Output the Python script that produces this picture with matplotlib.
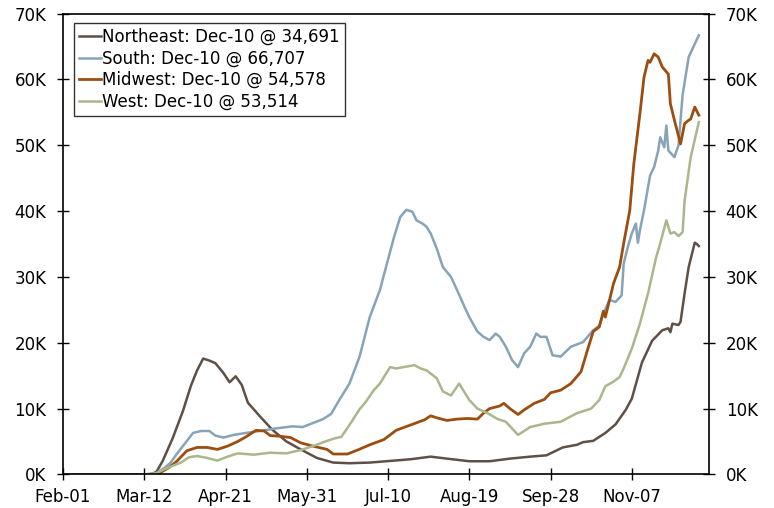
import pandas as pd
import matplotlib
matplotlib.use("Agg")
import matplotlib.pyplot as plt
import matplotlib.dates as mdates

# Daily new cases, 7-day moving average, thousands. Day = days after 2020-02-01.
ne_days = [0, 40, 44, 46, 49, 54, 59, 63, 66, 69, 72, 75, 79, 82, 85, 88, 91, 97, 103, 110,
           117, 125, 133, 141, 151, 159, 171, 181, 189, 200, 210, 220, 230, 238, 246, 253,
           256, 261, 267, 272, 277, 280, 285, 290, 295, 298, 299, 300, 303, 304, 306, 308,
           311, 312, 313]
ne_vals = [0, 0, 0.1, 0.4, 2.0, 5.5, 9.6, 13.5, 15.8, 17.6, 17.3, 16.9, 15.4, 14.0, 14.9,
           13.6, 10.9, 8.8, 6.8, 5.0, 3.8, 2.5, 1.8, 1.7, 1.8, 2.0, 2.3, 2.7, 2.4, 2.0, 2.0,
           2.4, 2.7, 2.9, 4.1, 4.5, 4.9, 5.1, 6.3, 7.6, 9.8, 11.5, 17.0, 20.3, 21.9, 22.2,
           21.6, 22.9, 22.7, 23.2, 27.5, 31.5, 35.2, 35.0, 34.691]

south_days = [0, 42, 46, 50, 53, 56, 61, 64, 68, 72, 75, 79, 84, 90, 97, 105, 113, 118, 123,
              128, 132, 136, 141, 146, 151, 156, 159, 163, 166, 169, 172, 174, 177, 179, 181,
              184, 187, 191, 194, 197, 200, 204, 207, 210, 213, 215, 218, 221, 224, 227, 230,
              233, 235, 238, 241, 245, 250, 256, 261, 264, 266, 269, 272, 275, 276, 278, 280,
              282, 283, 284, 286, 289, 291, 293, 294, 296, 297, 298, 301, 303, 305, 308, 313]
south_vals = [0, 0, 0.2, 1.0, 1.8, 3.1, 5.1, 6.3, 6.6, 6.6, 5.9, 5.6, 6.0, 6.3, 6.6, 7.0, 7.3,
              7.2, 7.8, 8.4, 9.2, 11.3, 13.8, 17.9, 23.9, 28.0, 31.5, 36.1, 39.1, 40.2, 39.9,
              38.6, 38.1, 37.6, 36.6, 34.3, 31.5, 30.0, 28.0, 25.9, 23.9, 21.7, 20.9, 20.4,
              21.4, 20.9, 19.4, 17.4, 16.3, 18.4, 19.4, 21.4, 20.9, 20.9, 18.1, 17.9, 19.4,
              20.1, 21.9, 22.6, 24.4, 26.5, 26.2, 27.2, 32.0, 34.5, 36.6, 38.1, 35.2, 37.1,
              40.1, 45.4, 46.7, 49.2, 51.2, 49.7, 53.0, 49.2, 48.2, 50.0, 57.6, 63.4, 66.707]

mw_days = [0, 44, 48, 52, 56, 61, 66, 71, 76, 81, 86, 90, 95, 99, 102, 107, 112, 117, 123, 130,
           133, 137, 140, 145, 151, 158, 164, 171, 178, 181, 184, 189, 194, 199, 204, 207, 210,
           215, 217, 220, 224, 227, 232, 237, 240, 245, 250, 255, 258, 261, 264, 266, 267, 271,
           274, 276, 279, 281, 284, 286, 288, 289, 291, 293, 295, 298, 299, 301, 304, 306, 308,
           309, 311, 313]
mw_vals = [0, 0, 0.3, 1.0, 2.0, 3.6, 4.1, 4.1, 3.8, 4.3, 5.0, 5.7, 6.7, 6.6, 5.9, 5.8, 5.6,
           4.8, 4.3, 3.8, 3.1, 3.1, 3.1, 3.7, 4.5, 5.3, 6.7, 7.5, 8.3, 8.9, 8.6, 8.2, 8.4, 8.5,
           8.4, 9.3, 10.0, 10.4, 10.8, 10.0, 9.1, 9.8, 10.8, 11.4, 12.4, 12.8, 13.8, 15.6, 18.7,
           21.7, 22.4, 24.8, 23.9, 29.0, 31.5, 35.1, 40.1, 47.2, 54.8, 60.3, 62.9, 62.6, 63.9,
           63.4, 61.9, 60.8, 56.3, 53.8, 50.2, 53.3, 53.8, 54.0, 55.8, 54.578]

west_days = [0, 42, 46, 50, 54, 58, 62, 66, 71, 76, 81, 86, 94, 102, 110, 117, 123, 130, 134,
             137, 141, 146, 149, 153, 156, 161, 164, 173, 176, 179, 184, 187, 191, 195, 197,
             200, 204, 209, 214, 218, 224, 230, 237, 245, 253, 260, 264, 267, 271, 274, 276,
             280, 284, 288, 292, 294, 297, 299, 301, 303, 305, 306, 309, 313]
west_vals = [0, 0, 0.2, 0.8, 1.3, 1.8, 2.6, 2.8, 2.5, 2.1, 2.7, 3.2, 3.0, 3.3, 3.2, 3.7, 4.3,
             5.1, 5.5, 5.7, 7.5, 9.9, 11.0, 12.8, 13.8, 16.3, 16.1, 16.6, 16.1, 15.8, 14.6,
             12.6, 12.0, 13.8, 12.8, 11.3, 10.0, 9.3, 8.4, 8.0, 6.0, 7.2, 7.7, 8.0, 9.3, 10.0,
             11.3, 13.4, 14.1, 14.8, 16.1, 19.1, 22.9, 27.5, 33.0, 35.1, 38.6, 36.6, 36.8,
             36.2, 36.8, 41.6, 48.2, 53.514]

regions = ["Northeast", "South", "Midwest", "West"]
colors = ["#5e5046", "#87a3b7", "#9c4d10", "#aab68c"]
series = [(ne_days, ne_vals), (south_days, south_vals), (mw_days, mw_vals), (west_days, west_vals)]

start = pd.Timestamp("2020-02-01")
last_label = "Dec-10"

plt.rcParams["font.family"] = "DejaVu Sans"
fig = plt.figure(figsize=(7.74, 5.08), dpi=100)
ax = fig.add_axes([0.0814, 0.0661, 0.8346, 0.9071])

for name, col, (d, v) in zip(regions, colors, series):
    dates = start + pd.to_timedelta(d, unit="D")
    lw = 2.0 if name == "Midwest" else 1.8
    ax.plot(dates, v, color=col, lw=lw,
            label=f"{name}: {last_label} @ {round(v[-1] * 1000):,}")

ax.set_ylim(0, 70)
ax.set_yticks(range(0, 71, 10))
ax.set_yticklabels([f"{t}K" for t in range(0, 71, 10)])
ax.set_xlim(start, start + pd.Timedelta(days=318))
ax.set_xticks([start + pd.Timedelta(days=40 * k) for k in range(8)])
ax.xaxis.set_major_formatter(mdates.DateFormatter("%b-%d"))

ax.tick_params(axis="both", direction="inout", length=8, width=1, labelsize=12,
               colors="black")
ax.tick_params(axis="y", which="both", right=True, labelright=True, pad=8)
ax.tick_params(axis="x", pad=6)
for s in ax.spines.values():
    s.set_linewidth(1.2)
    s.set_color("black")

leg = ax.legend(loc="upper left", bbox_to_anchor=(0.017, 0.98), borderaxespad=0,
                fontsize=12, frameon=True, fancybox=False, handlelength=1.3,
                handletextpad=0.1, labelspacing=0.22, borderpad=0.3)
leg.get_frame().set_edgecolor("black")
leg.get_frame().set_linewidth(1.0)

# title sits mostly above the canvas, only descenders show
fig.text(154 / 774, 1.0 + 6 / 508, "7-day moving average by region, new cases", fontsize=15,
         va="baseline", ha="left", color="#333333")

fig.savefig("out.png", dpi=100)
